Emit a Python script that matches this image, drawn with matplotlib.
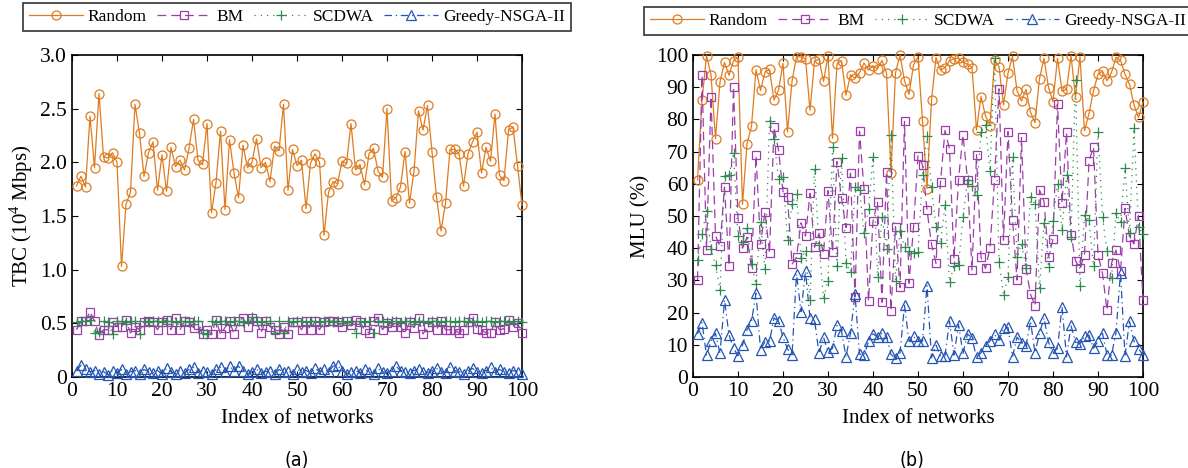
import matplotlib.pyplot as plt

plt.rcParams['font.family'] = ['Liberation Serif', 'DejaVu Serif']
plt.rcParams['mathtext.fontset'] = 'custom'
plt.rcParams['mathtext.rm'] = 'Liberation Serif'

idx = list(range(1, 101))

# (a) TBC, 10^4 Mbps
tbc_random = [1.78, 1.87, 1.77, 2.43, 1.95, 2.64, 2.05, 2.04, 2.09, 2.00,
              1.03, 1.61, 1.72, 2.54, 2.27, 1.87, 2.09, 2.19, 1.74, 2.07,
              1.73, 2.14, 1.96, 2.02, 1.93, 2.13, 2.40, 2.02, 1.98, 2.36,
              1.53, 1.81, 2.29, 1.56, 2.21, 1.90, 1.67, 2.16, 1.95, 2.00,
              2.22, 1.95, 2.00, 1.82, 2.15, 2.11, 2.54, 1.74, 2.12, 1.97,
              2.02, 1.57, 1.99, 2.08, 2.00, 1.32, 1.72, 1.82, 1.80, 2.01,
              1.99, 2.36, 1.93, 1.98, 1.79, 2.08, 2.13, 1.92, 1.86, 2.50,
              1.64, 1.67, 1.77, 2.10, 1.62, 1.92, 2.48, 2.30, 2.53, 2.10,
              1.68, 1.36, 1.62, 2.12, 2.12, 2.08, 1.78, 2.08, 2.19, 2.28,
              1.90, 2.14, 2.01, 2.45, 1.88, 1.83, 2.30, 2.33, 1.97, 1.60]
tbc_bm = [0.44, 0.52, 0.52, 0.61, 0.52, 0.39, 0.44, 0.44, 0.51, 0.47,
          0.47, 0.53, 0.41, 0.47, 0.44, 0.51, 0.52, 0.51, 0.44, 0.51,
          0.53, 0.44, 0.55, 0.44, 0.52, 0.51, 0.46, 0.48, 0.40, 0.44,
          0.40, 0.53, 0.40, 0.46, 0.52, 0.40, 0.52, 0.55, 0.47, 0.55,
          0.52, 0.41, 0.52, 0.47, 0.44, 0.40, 0.47, 0.40, 0.51, 0.51,
          0.44, 0.52, 0.44, 0.52, 0.44, 0.51, 0.52, 0.52, 0.51, 0.47,
          0.52, 0.48, 0.53, 0.51, 0.44, 0.41, 0.52, 0.55, 0.44, 0.50,
          0.47, 0.51, 0.47, 0.41, 0.51, 0.46, 0.55, 0.40, 0.47, 0.51,
          0.44, 0.52, 0.44, 0.44, 0.44, 0.41, 0.44, 0.51, 0.55, 0.45,
          0.44, 0.41, 0.41, 0.51, 0.44, 0.45, 0.53, 0.47, 0.50, 0.41]
tbc_scdwa = [0.51, 0.52, 0.52, 0.53, 0.41, 0.42, 0.52, 0.51, 0.40, 0.52,
             0.52, 0.51, 0.52, 0.52, 0.40, 0.52, 0.51, 0.52, 0.52, 0.51,
             0.52, 0.52, 0.51, 0.52, 0.52, 0.51, 0.52, 0.52, 0.41, 0.40,
             0.52, 0.51, 0.52, 0.52, 0.51, 0.52, 0.52, 0.51, 0.52, 0.56,
             0.52, 0.51, 0.52, 0.52, 0.41, 0.52, 0.41, 0.52, 0.51, 0.52,
             0.52, 0.51, 0.52, 0.52, 0.51, 0.52, 0.52, 0.51, 0.52, 0.52,
             0.51, 0.52, 0.41, 0.52, 0.51, 0.52, 0.41, 0.52, 0.52, 0.51,
             0.52, 0.52, 0.51, 0.52, 0.52, 0.51, 0.52, 0.52, 0.51, 0.52,
             0.52, 0.51, 0.52, 0.52, 0.51, 0.52, 0.52, 0.51, 0.52, 0.52,
             0.51, 0.52, 0.52, 0.51, 0.52, 0.52, 0.51, 0.52, 0.52, 0.51]
tbc_greedy = [0.06, 0.11, 0.07, 0.05, 0.06, 0.03, 0.05, 0.02, 0.06, 0.04,
              0.07, 0.03, 0.05, 0.06, 0.03, 0.07, 0.05, 0.04, 0.06, 0.03,
              0.08, 0.05, 0.03, 0.06, 0.04, 0.07, 0.09, 0.04, 0.06, 0.05,
              0.03, 0.07, 0.09, 0.05, 0.10, 0.06, 0.10, 0.06, 0.03, 0.05,
              0.07, 0.04, 0.05, 0.06, 0.03, 0.07, 0.05, 0.06, 0.03, 0.07,
              0.05, 0.06, 0.04, 0.08, 0.05, 0.07, 0.05, 0.10, 0.11, 0.06,
              0.03, 0.05, 0.06, 0.04, 0.07, 0.05, 0.03, 0.08, 0.05, 0.04,
              0.06, 0.10, 0.06, 0.05, 0.04, 0.06, 0.07, 0.05, 0.04, 0.06,
              0.08, 0.05, 0.04, 0.09, 0.06, 0.05, 0.03, 0.06, 0.08, 0.05,
              0.04, 0.06, 0.09, 0.05, 0.07, 0.05, 0.04, 0.06, 0.05, 0.03]

# (b) MLU, %
mlu_random = [61.2, 85.9, 99.8, 93.9, 74.0, 91.6, 97.7, 93.7, 98.2, 99.3,
              53.6, 72.5, 77.8, 95.4, 89.0, 94.7, 95.5, 86.0, 89.1, 97.4,
              76.1, 91.8, 99.5, 99.4, 98.8, 82.8, 98.0, 98.8, 91.8, 99.7,
              74.1, 97.2, 98.2, 87.5, 93.9, 92.8, 94.5, 97.5, 95.3, 96.7,
              95.8, 98.3, 94.5, 63.5, 94.5, 100.0, 92.0, 87.8, 96.9, 99.5,
              79.6, 58.5, 86.0, 99.2, 95.3, 96.1, 98.2, 98.9, 99.0, 97.7,
              97.1, 96.1, 76.7, 87.1, 81.1, 78.1, 98.4, 96.4, 84.5, 94.3,
              99.6, 88.9, 85.7, 89.3, 82.2, 79.0, 92.7, 99.0, 89.9, 85.5,
              99.0, 88.8, 89.3, 99.8, 86.9, 99.5, 76.5, 81.8, 88.9, 94.0,
              95.0, 92.0, 94.6, 99.3, 98.4, 94.0, 90.9, 84.5, 80.6, 85.4]
mlu_bm = [30.1, 93.7, 39.4, 87.1, 43.9, 40.6, 59.0, 34.5, 90.1, 49.4,
          40.0, 43.4, 33.9, 68.8, 41.3, 51.3, 38.5, 77.5, 70.5, 57.5,
          55.8, 35.0, 37.2, 47.9, 43.8, 57.0, 40.3, 44.6, 38.2, 57.9,
          38.8, 66.9, 55.5, 46.4, 63.3, 24.9, 76.3, 58.4, 23.6, 48.4,
          54.5, 23.2, 63.6, 20.5, 46.7, 27.8, 79.4, 29.1, 46.5, 68.7,
          65.9, 51.9, 41.2, 35.3, 60.5, 76.6, 70.8, 36.6, 61.3, 75.2,
          61.3, 33.2, 69.0, 37.2, 33.7, 40.0, 61.1, 89.5, 42.5, 76.2,
          48.8, 30.1, 74.4, 33.6, 25.7, 22.2, 58.1, 54.5, 37.2, 42.8,
          84.8, 53.9, 76.0, 44.2, 36.1, 33.7, 37.9, 67.0, 71.5, 37.9,
          32.2, 20.7, 35.3, 39.4, 32.8, 52.4, 43.5, 41.3, 50.1, 23.8]
mlu_scdwa = [36.3, 44.4, 51.7, 39.8, 34.7, 27.0, 62.4, 62.7, 69.6, 43.8,
             42.0, 46.4, 35.1, 28.8, 48.2, 33.4, 79.5, 74.0, 61.4, 62.2,
             42.5, 53.7, 56.7, 36.9, 39.0, 23.9, 64.5, 41.0, 24.6, 29.9,
             71.3, 34.5, 68.1, 35.3, 32.6, 58.9, 58.1, 44.6, 52.2, 68.4,
             31.2, 49.8, 39.8, 75.3, 29.9, 45.3, 40.5, 39.1, 38.6, 38.7,
             62.8, 74.8, 59.1, 46.5, 41.5, 53.3, 29.6, 34.4, 34.8, 49.6,
             61.2, 59.3, 56.5, 76.2, 78.3, 64.0, 99.0, 35.8, 25.4, 31.2,
             68.2, 37.2, 41.3, 34.0, 56.0, 53.6, 27.5, 47.9, 34.1, 48.4,
             59.9, 45.7, 62.7, 43.6, 92.2, 28.3, 50.3, 48.8, 34.5, 76.2,
             49.6, 39.2, 30.6, 50.8, 48.0, 64.8, 44.8, 77.2, 46.7, 44.4]
mlu_greedy = [13.4, 16.9, 6.8, 11.2, 13.6, 7.3, 23.9, 13.1, 9.0, 6.6,
              9.9, 14.6, 17.3, 26.0, 8.5, 11.0, 11.1, 18.3, 17.4, 12.4,
              8.7, 6.8, 32.0, 20.3, 32.8, 18.3, 17.9, 7.3, 12.4, 7.7,
              8.9, 16.0, 14.2, 6.3, 13.6, 25.7, 7.1, 6.8, 11.1, 13.4,
              12.4, 13.6, 12.5, 7.0, 5.8, 7.5, 22.3, 11.1, 12.6, 11.1,
              11.1, 28.4, 6.0, 9.9, 6.6, 6.6, 17.4, 6.8, 16.3, 7.3,
              13.4, 12.0, 6.1, 7.5, 9.6, 11.2, 13.2, 11.4, 15.2, 15.4,
              6.3, 12.4, 10.6, 9.6, 17.4, 7.5, 13.6, 18.3, 10.8, 7.5,
              8.9, 21.8, 6.3, 16.0, 10.8, 10.4, 12.7, 13.0, 8.9, 11.2,
              13.6, 6.8, 6.8, 13.8, 32.4, 6.6, 17.3, 11.1, 8.8, 6.8]

labels = ['Random', 'BM', 'SCDWA', 'Greedy-NSGA-II']
colors = ['#E07B1F', '#9B3FA8', '#2E8B4E', '#2455B4']
styles = [
    dict(ls='-', marker='o', ms=6.5),
    dict(ls=(0, (7, 4)), marker='s', ms=5.5),
    dict(ls=(0, (1, 4)), marker='+', ms=7),
    dict(ls=(0, (6, 3, 1, 3)), marker='^', ms=6.5),
]

fig = plt.figure(figsize=(11.88, 4.68), dpi=100)
ax1 = fig.add_axes([72 / 1188, 91 / 468, 450 / 1188, 322 / 468])
ax2 = fig.add_axes([693 / 1188, 91 / 468, 450 / 1188, 322 / 468])

for ax, data, top in ((ax1, [tbc_random, tbc_bm, tbc_scdwa, tbc_greedy], 1.047),
                      (ax2, [mlu_random, mlu_bm, mlu_scdwa, mlu_greedy], 1.034)):
    for y, lab, c, st in zip(data, labels, colors, styles):
        ax.plot(idx, y, color=c, lw=0.9, ls=st['ls'], marker=st['marker'],
                ms=st['ms'], mfc='none', mec=c, mew=0.9, label=lab,
                clip_on=False, zorder=3)
    ax.set_xlim(0, 100)
    ax.set_xticks(range(0, 101, 10))
    ax.tick_params(direction='in', top=True, right=True, labelsize=15.5,
                   length=4, width=0.8)
    for s in ax.spines.values():
        s.set_linewidth(1.2)
    ax.set_xlabel('Index of networks', fontsize=15, labelpad=6)
    leg = ax.legend(loc='lower center', ncol=4, fontsize=12.5, frameon=True,
                    fancybox=False, edgecolor='black', handlelength=3.1,
                    handletextpad=0.3, columnspacing=0.6, borderpad=0.35,
                    bbox_to_anchor=(0.5, top))
    leg.get_frame().set_linewidth(1.2)

ax1.set_ylim(0, 3.0)
ax1.set_yticks([0, 0.5, 1.0, 1.5, 2.0, 2.5, 3.0])
ax1.set_yticklabels(['0', '0.5', '1.0', '1.5', '2.0', '2.5', '3.0'])
ax1.set_ylabel('TBC (10$^4$ Mbps)', fontsize=15, labelpad=4)

ax2.set_ylim(0, 100)
ax2.set_yticks(range(0, 101, 10))
ax2.set_ylabel('MLU (%)', fontsize=15, labelpad=4)

fig.text(297 / 1188, 1 - 460 / 468, '(a)', fontsize=14, family='DejaVu Sans',
         fontstretch='condensed', ha='center', va='center')
fig.text(912 / 1188, 1 - 460 / 468, '(b)', fontsize=14, family='DejaVu Sans',
         fontstretch='condensed', ha='center', va='center')

fig.savefig('out.png', dpi=100)
